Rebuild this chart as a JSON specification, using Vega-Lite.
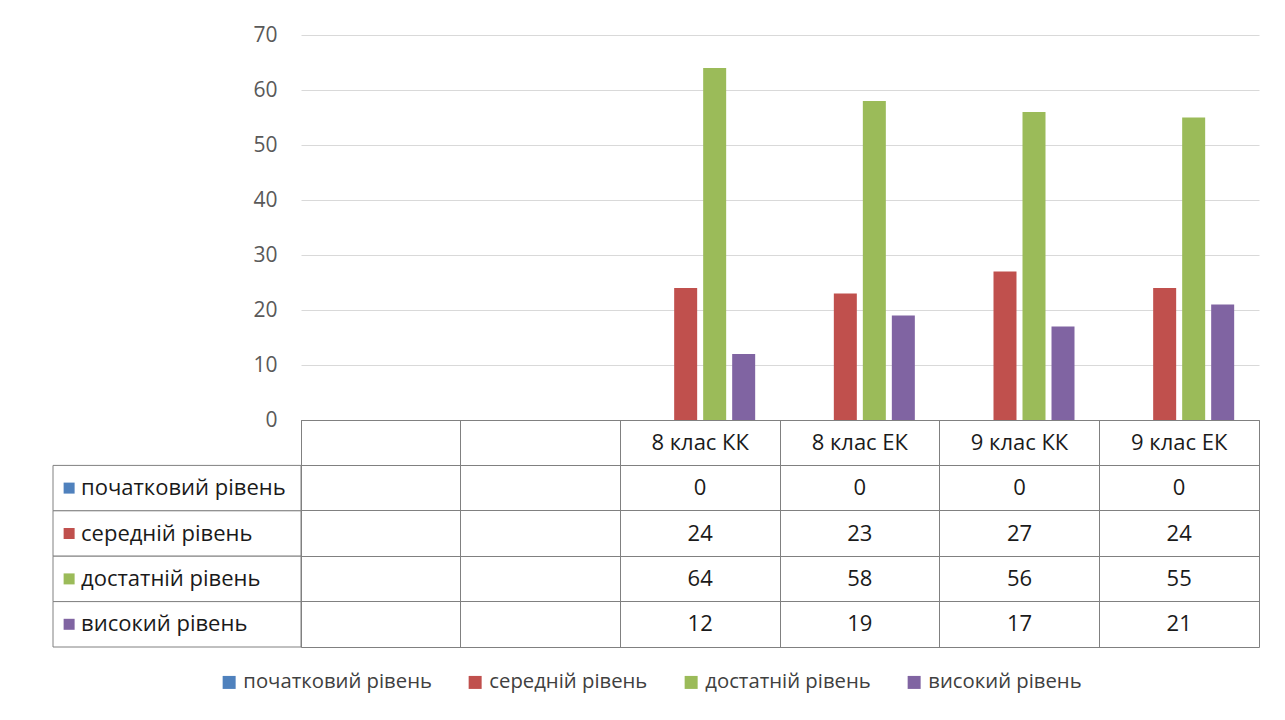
{
  "$schema": "https://vega.github.io/schema/vega-lite/v6.json",
  "padding": {"left": 52, "top": 24, "right": 0, "bottom": 0},
  "autosize": {"type": "pad"},
  "background": "white",
  "config": {
    "font": "Open Sans",
    "view": {"stroke": null},
    "legend": {"title": null, "symbolType": "square", "symbolSize": 169, "symbolStrokeWidth": 0, "symbolOpacity": 1, "labelFontSize": 20.3, "labelColor": "#404040", "columnPadding": 33, "labelLimit": 400, "labelOffset": 4, "direction": "horizontal"}
  },
  "datasets": {
    "scores": [
      {"cls": "8 клас КК", "level": "початковий рівень", "value": 0},
      {"cls": "8 клас КК", "level": "середній рівень", "value": 24},
      {"cls": "8 клас КК", "level": "достатній рівень", "value": 64},
      {"cls": "8 клас КК", "level": "високий рівень", "value": 12},
      {"cls": "8 клас ЕК", "level": "початковий рівень", "value": 0},
      {"cls": "8 клас ЕК", "level": "середній рівень", "value": 23},
      {"cls": "8 клас ЕК", "level": "достатній рівень", "value": 58},
      {"cls": "8 клас ЕК", "level": "високий рівень", "value": 19},
      {"cls": "9 клас КК", "level": "початковий рівень", "value": 0},
      {"cls": "9 клас КК", "level": "середній рівень", "value": 27},
      {"cls": "9 клас КК", "level": "достатній рівень", "value": 56},
      {"cls": "9 клас КК", "level": "високий рівень", "value": 17},
      {"cls": "9 клас ЕК", "level": "початковий рівень", "value": 0},
      {"cls": "9 клас ЕК", "level": "середній рівень", "value": 24},
      {"cls": "9 клас ЕК", "level": "достатній рівень", "value": 55},
      {"cls": "9 клас ЕК", "level": "високий рівень", "value": 21}
    ],
    "classes": [
      {"cls": " "}, {"cls": "  "}, {"cls": "8 клас КК"}, {"cls": "8 клас ЕК"}, {"cls": "9 клас КК"}, {"cls": "9 клас ЕК"}
    ],
    "levels": [
      {"level": "початковий рівень"}, {"level": "середній рівень"}, {"level": "достатній рівень"}, {"level": "високий рівень"}
    ]
  },
  "columns": 2,
  "spacing": 0,
  "bounds": "flush",
  "resolve": {"scale": {"x": "independent", "y": "independent", "color": "shared"}},
  "concat": [
    {
      "width": 248,
      "height": 385,
      "data": {"values": [{"t": ""}]},
      "mark": {"type": "text"},
      "encoding": {"text": {"field": "t"}}
    },
    {
      "width": 958,
      "height": 385,
      "data": {"name": "scores"},
      "mark": {"type": "bar"},
      "encoding": {
        "x": {"field": "cls", "type": "nominal", "scale": {"type": "band", "domain": [" ", "  ", "8 клас КК", "8 клас ЕК", "9 клас КК", "9 клас ЕК"], "paddingInner": 0, "paddingOuter": 0}, "axis": null},
        "xOffset": {"field": "level", "type": "nominal", "scale": {"domain": ["початковий рівень", "середній рівень", "достатній рівень", "високий рівень"], "paddingInner": 0.207, "paddingOuter": 0.856}},
        "y": {"field": "value", "type": "quantitative", "scale": {"domain": [0, 70], "nice": false}, "axis": {"values": [0, 10, 20, 30, 40, 50, 60, 70], "grid": true, "gridColor": "#d9d9d9", "domain": false, "ticks": false, "labelPadding": 24, "labelFontSize": 21, "labelColor": "#595959", "title": null}},
        "color": {"field": "level", "type": "nominal", "scale": {"domain": ["початковий рівень", "середній рівень", "достатній рівень", "високий рівень"], "range": ["#4F81BD", "#C0504D", "#9BBB59", "#8064A2"]},
          "legend": {"orient": "none", "legendX": 166, "legendY": 637, "direction": "horizontal", "title": null, "labelFontSize": 20.3, "labelLimit": 400, "columnPadding": 33, "labelOffset": 4}}
      }
    },
    {
      "width": 248,
      "height": 227,
      "data": {"name": "levels"},
      "layer": [
        {
          "mark": {"type": "rect", "fill": "white", "stroke": "#808080", "strokeWidth": 1},
          "encoding": {
            "y": {"field": "level", "type": "nominal", "scale": {"type": "band", "domain": ["header", "початковий рівень", "середній рівень", "достатній рівень", "високий рівень"], "paddingInner": 0, "paddingOuter": 0}, "axis": null},
            "x": {"datum": 0, "type": "quantitative", "scale": {"domain": [0, 1], "nice": false, "zero": false}, "axis": null},
            "x2": {"datum": 1}
          }
        },
        {
          "mark": {"type": "point", "shape": "square", "filled": true, "size": 121, "opacity": 1},
          "encoding": {
            "y": {"field": "level", "type": "nominal"},
            "x": {"datum": 0.065, "type": "quantitative"},
            "color": {"field": "level", "type": "nominal"}
          }
        },
        {
          "mark": {"type": "text", "align": "left", "baseline": "middle", "fontSize": 22, "color": "#1a1a1a"},
          "encoding": {
            "y": {"field": "level", "type": "nominal"},
            "x": {"datum": 0.113, "type": "quantitative"},
            "text": {"field": "level"}
          }
        }
      ]
    },
    {
      "width": 958,
      "height": 227,
      "view": {"stroke": "#808080"},
      "layer": [
        {
          "data": {"name": "classes"},
          "mark": {"type": "text", "fontSize": 22, "color": "#1a1a1a", "baseline": "middle"},
          "encoding": {
            "x": {"field": "cls", "type": "nominal", "scale": {"type": "band", "domain": [" ", "  ", "8 клас КК", "8 клас ЕК", "9 клас КК", "9 клас ЕК"], "paddingInner": 0, "paddingOuter": 0}, "axis": {"grid": true, "bandPosition": 0, "gridColor": "#808080", "gridOpacity": 1, "labels": false, "ticks": false, "domain": false, "title": null}},
            "y": {"datum": "header", "type": "nominal", "scale": {"type": "band", "domain": ["header", "початковий рівень", "середній рівень", "достатній рівень", "високий рівень"], "paddingInner": 0, "paddingOuter": 0}, "axis": {"grid": true, "bandPosition": 0, "gridColor": "#808080", "gridOpacity": 1, "labels": false, "ticks": false, "domain": false, "title": null}},
            "text": {"field": "cls"}
          }
        },
        {
          "data": {"name": "scores"},
          "mark": {"type": "text", "fontSize": 22, "color": "#1a1a1a", "baseline": "middle"},
          "encoding": {
            "x": {"field": "cls", "type": "nominal"},
            "y": {"field": "level", "type": "nominal"},
            "text": {"field": "value", "type": "quantitative"}
          }
        }
      ]
    }
  ]
}
